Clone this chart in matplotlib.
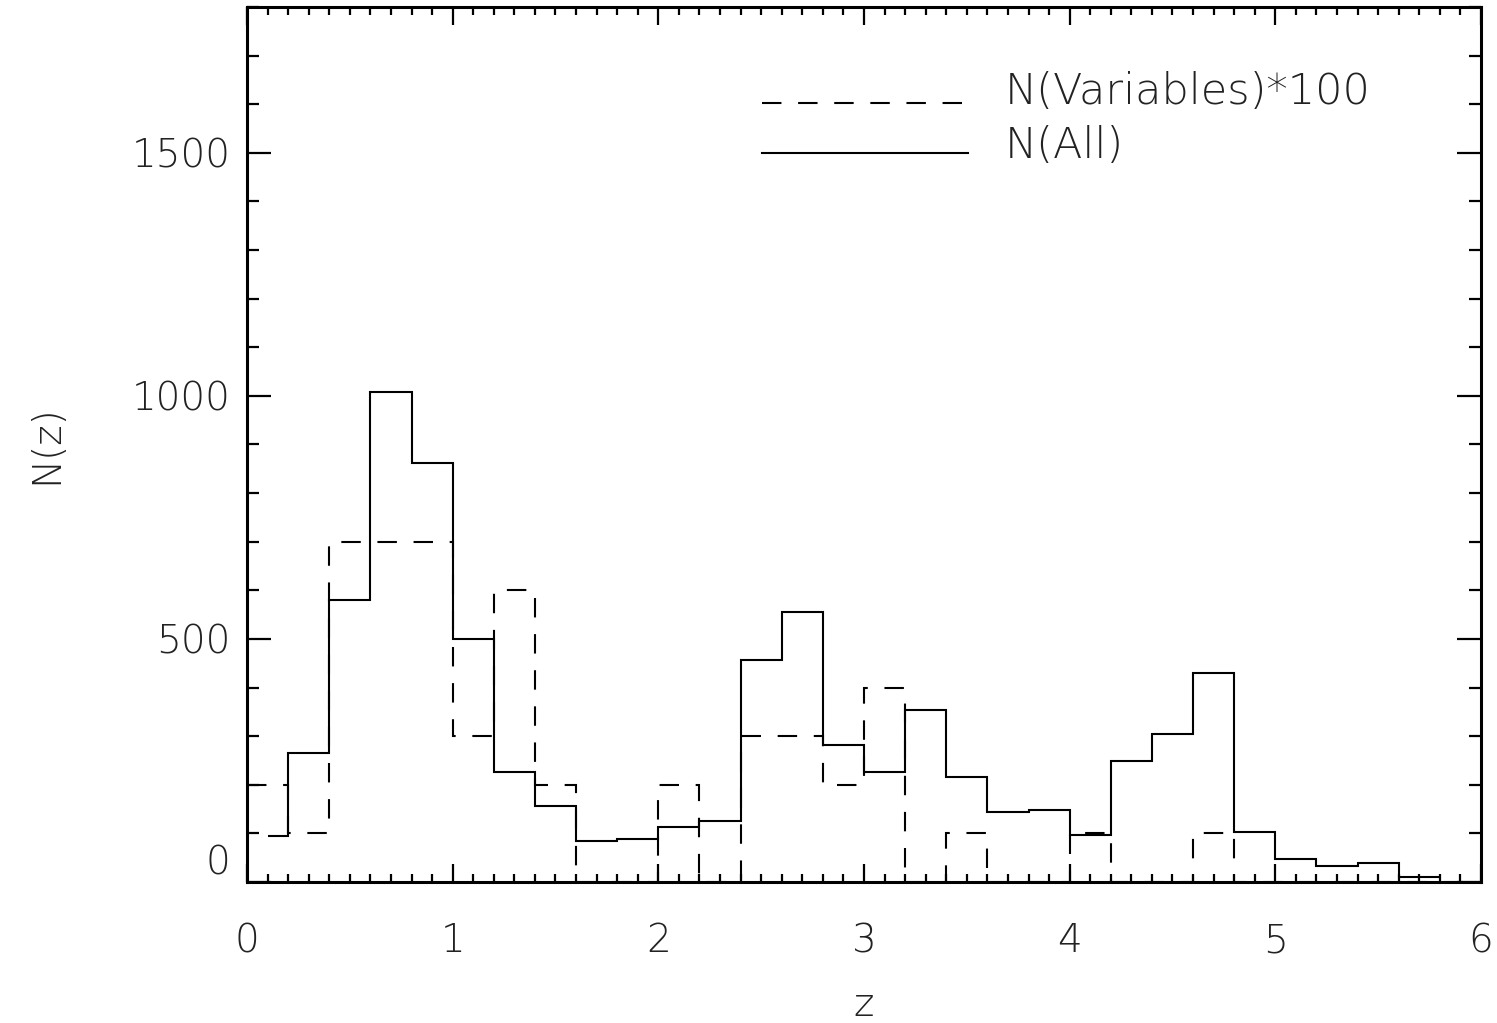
import numpy as np
import matplotlib
matplotlib.use('Agg')
from matplotlib import pyplot as plt

plt.rcParams['font.family'] = ['DejaVu Sans']
plt.rcParams['lines.scale_dashes'] = False

# bin edges of the redshift histograms (dz = 0.2)
z_edges = [0.0, 0.2, 0.4, 0.6, 0.8, 1.0, 1.2, 1.4, 1.6, 1.8, 2.0,
           2.2, 2.4, 2.6, 2.8, 3.0, 3.2, 3.4, 3.6, 3.8, 4.0,
           4.2, 4.4, 4.6, 4.8, 5.0, 5.2, 5.4, 5.6, 5.8, 6.0]

# N(Variables)*100, one value per bin
n_var = [200, 100, 700, 700, 700, 300, 600, 200, 0, 0,
         200, 0, 300, 300, 200, 400, 0, 100, 0, 0,
         100, 0, 0, 100, 0, 0, 0, 0, 0, 0]

# N(All): first step starts at the bin centre (z=0.1), last bin ends at 5.8
all_edges = [0.1, 0.2, 0.4, 0.6, 0.8, 1.0, 1.2, 1.4, 1.6, 1.8, 2.0,
             2.2, 2.4, 2.6, 2.8, 3.0, 3.2, 3.4, 3.6, 3.8, 4.0,
             4.2, 4.4, 4.6, 4.8, 5.0, 5.2, 5.4, 5.6, 5.8]
n_all = [95, 265, 580, 1008, 862, 500, 226, 156, 84, 88,
         113, 126, 457, 556, 282, 226, 353, 216, 144, 148,
         97, 248, 304, 429, 103, 47, 33, 39, 10]

legend_labels = ['N(Variables)*100', 'N(All)']

fig = plt.figure(figsize=(14.97, 10.23), dpi=100)
ax = fig.add_axes([0.165, 0.1378, 0.8243, 0.8554])

ax.stairs(n_var, z_edges, baseline=None, color='k', linewidth=1.5,
          linestyle=(0, (14, 12)))
ax.stairs(n_all, all_edges, baseline=None, color='k', linewidth=1.5)

ax.set_xlim(0, 6)
ax.set_ylim(0, 1800)
ax.set_xticks(range(0, 7))
ax.set_xticks(np.arange(0, 6.01, 0.1), minor=True)
ax.set_yticks([0, 500, 1000, 1500])
ax.set_yticks(np.arange(0, 1801, 100), minor=True)

for s in ax.spines.values():
    s.set_linewidth(2.2)

txt_color = '#222222'
ax.tick_params(axis='both', which='both', direction='in', top=True, right=True,
               width=1.6, colors='k', labelcolor=txt_color, labelsize=28)
ax.tick_params(axis='x', which='major', length=13, pad=29)
ax.tick_params(axis='x', which='minor', length=6)
ax.tick_params(axis='y', which='major', length=17, pad=12)
ax.tick_params(axis='y', which='minor', length=8.5)
for lab in ax.get_xticklabels() + ax.get_yticklabels():
    lab.set_fontweight('light')
ax.get_yticklabels()[0].set_va('bottom')

ax.set_xlabel('z', fontsize=28, color=txt_color, fontweight='light',
              va='center', ha='center')
ax.set_ylabel('N(z)', fontsize=28, color=txt_color, fontweight='light',
              va='center', ha='center')
ax.xaxis.set_label_coords(0.5, -0.141)
ax.yaxis.set_label_coords(-0.163, 0.5)

# legend key drawn by hand, like the IDL legend
ax.plot([0.417, 0.584], [0.890, 0.890], transform=ax.transAxes, color='k',
        linewidth=1.5, linestyle=(0, (14, 12)))
ax.plot([0.417, 0.584], [0.833, 0.833], transform=ax.transAxes, color='k',
        linewidth=1.5)
ax.text(0.614, 0.903, legend_labels[0], transform=ax.transAxes, fontsize=31,
        va='center', ha='left', color=txt_color, fontweight='light')
ax.text(0.614, 0.842, legend_labels[1], transform=ax.transAxes, fontsize=31,
        va='center', ha='left', color=txt_color, fontweight='light')

fig.savefig('out.png', dpi=100)
